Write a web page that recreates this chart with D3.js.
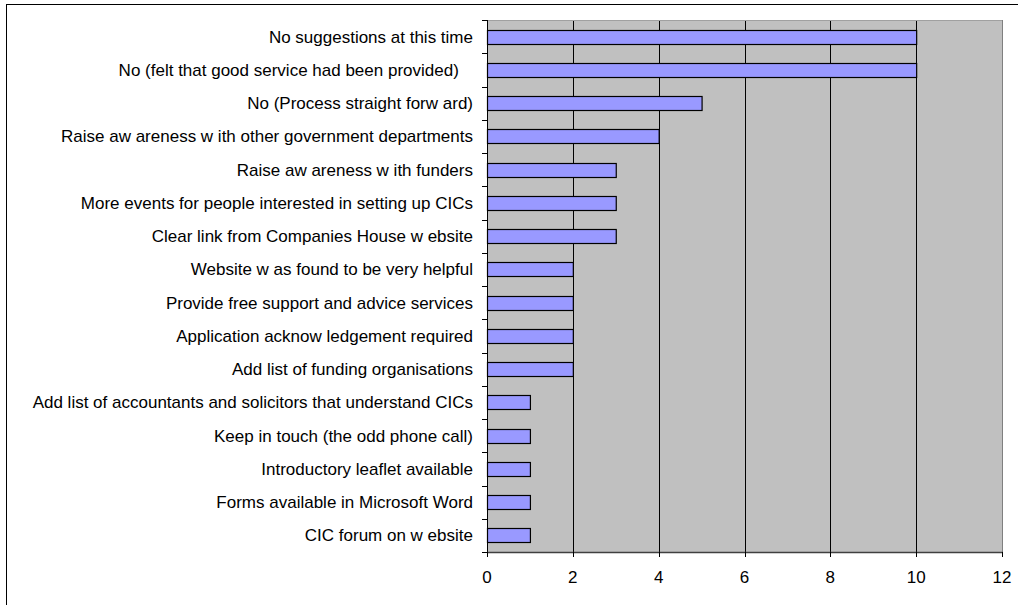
<!DOCTYPE html>
<html>
<head>
<meta charset="utf-8">
<script src="https://cdn.jsdelivr.net/npm/d3@7"></script>
<style>
  html, body { margin: 0; padding: 0; background: #fff; }
  svg { display: block; }
  text { font-family: "Liberation Sans", Arial, sans-serif; fill: #000; white-space: pre; }
</style>
</head>
<body>
<svg id="chart" width="1018" height="605"></svg>
<script>
// Suggestions and how many respondents made each one
const categories = [
  "No suggestions at this time",
  "No (felt that good service had been provided)   ",
  "No (Process straight forw ard)",
  "Raise aw areness w ith other government departments",
  "Raise aw areness w ith funders",
  "More events for people interested in setting up CICs",
  "Clear link from Companies House w ebsite",
  "Website w as found to be very helpful",
  "Provide free support and advice services",
  "Application acknow ledgement required",
  "Add list of funding organisations",
  "Add list of accountants and solicitors that understand CICs",
  "Keep in touch (the odd phone call)",
  "Introductory leaflet available",
  "Forms available in Microsoft Word",
  "CIC forum on w ebsite"
];
const counts = [10, 10, 5, 4, 3, 3, 3, 2, 2, 2, 2, 1, 1, 1, 1, 1];
const xTicks = [0, 2, 4, 6, 8, 10, 12];

const svg = d3.select("#chart");
const plot = { left: 487, top: 20, right: 1002, bottom: 552 };

// Outer frame (runs off the right and bottom of the canvas)
svg.append("rect")
  .attr("x", 6.5).attr("y", 4.5)
  .attr("width", 1030).attr("height", 620)
  .attr("fill", "#fff").attr("stroke", "#000").attr("stroke-width", 1);

const x = d3.scaleLinear().domain([0, 12]).range([plot.left, plot.right]);
const y = d3.scaleBand().domain(categories).range([plot.top, plot.bottom])
  .paddingInner(0.58).paddingOuter(0.29);

// Plot background
svg.append("rect")
  .attr("x", plot.left).attr("y", plot.top)
  .attr("width", plot.right - plot.left).attr("height", plot.bottom - plot.top)
  .attr("fill", "#c0c0c0");

// Vertical gridlines
svg.append("g").selectAll("line")
  .data(xTicks.filter(d => d > 0 && d < 12))
  .join("line")
  .attr("x1", d => Math.round(x(d)) + 0.5).attr("x2", d => Math.round(x(d)) + 0.5)
  .attr("y1", plot.top).attr("y2", plot.bottom)
  .attr("stroke", "#000").attr("stroke-width", 1);

// Plot border on the right/top
svg.append("line")
  .attr("x1", plot.right + 0.5).attr("x2", plot.right + 0.5)
  .attr("y1", plot.top).attr("y2", plot.bottom)
  .attr("stroke", "#808080");
svg.append("line")
  .attr("x1", plot.left).attr("x2", plot.right)
  .attr("y1", plot.top + 0.5).attr("y2", plot.top + 0.5)
  .attr("stroke", "#a0a0a0");

// Bars
svg.append("g").selectAll("rect")
  .data(categories)
  .join("rect")
  .attr("x", x(0) + 0.5)
  .attr("y", d => Math.round(y(d)) + 0.5)
  .attr("width", (d, i) => x(counts[i]) - x(0))
  .attr("height", Math.round(y.bandwidth()))
  .attr("fill", "#9999ff")
  .attr("stroke", "#000").attr("stroke-width", 1.2);

// Category axis
const step = (plot.bottom - plot.top) / categories.length;
const yAxis = svg.append("g");
yAxis.append("line")
  .attr("x1", plot.left + 0.5).attr("x2", plot.left + 0.5)
  .attr("y1", plot.top).attr("y2", plot.bottom)
  .attr("stroke", "#000");
yAxis.selectAll("line.tick")
  .data(d3.range(categories.length + 1))
  .join("line").attr("class", "tick")
  .attr("x1", plot.left - 5).attr("x2", plot.left)
  .attr("y1", i => Math.round(plot.top + i * step) + 0.5)
  .attr("y2", i => Math.round(plot.top + i * step) + 0.5)
  .attr("stroke", "#000");
yAxis.selectAll("text")
  .data(categories)
  .join("text")
  .attr("x", plot.left - 14)
  .attr("y", d => y(d) + y.bandwidth() / 2)
  .attr("dy", "0.35em")
  .attr("text-anchor", "end")
  .attr("font-size", "17px")
  .text(d => d);

// Value axis
const xAxis = svg.append("g");
xAxis.append("line")
  .attr("x1", plot.left).attr("x2", plot.right + 1)
  .attr("y1", plot.bottom + 0.5).attr("y2", plot.bottom + 0.5)
  .attr("stroke", "#404040").attr("stroke-width", 1.5);
xAxis.selectAll("line.tick")
  .data(xTicks)
  .join("line").attr("class", "tick")
  .attr("x1", d => Math.round(x(d)) + 0.5).attr("x2", d => Math.round(x(d)) + 0.5)
  .attr("y1", plot.bottom).attr("y2", plot.bottom + 5)
  .attr("stroke", "#000");
xAxis.selectAll("text")
  .data(xTicks)
  .join("text")
  .attr("x", d => x(d))
  .attr("y", plot.bottom + 25)
  .attr("dy", "0.35em")
  .attr("text-anchor", "middle")
  .attr("font-size", "17px")
  .text(d => d);
</script>
</body>
</html>
